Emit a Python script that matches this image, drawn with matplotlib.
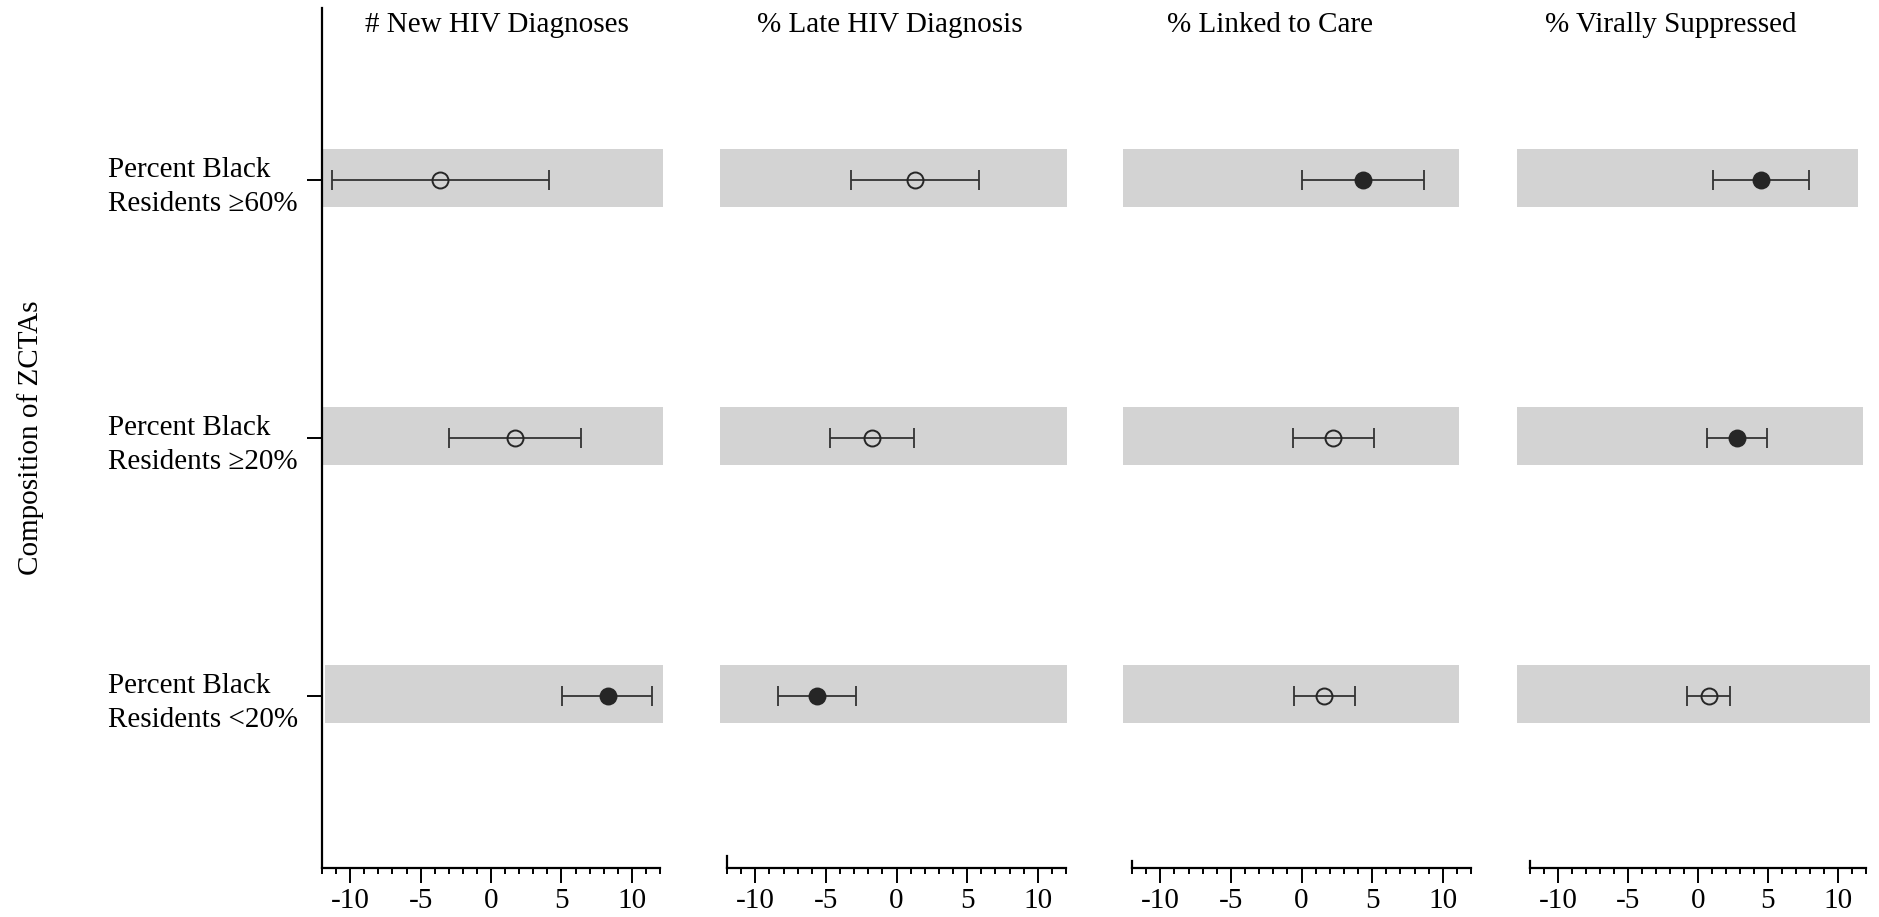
import matplotlib
matplotlib.use('Agg')
import matplotlib.pyplot as plt
from matplotlib.patches import Rectangle

plt.rcParams['font.family'] = ['Liberation Serif', 'DejaVu Serif']
plt.rcParams['axes.unicode_minus'] = False

# ---------------- data ----------------
outcomes = ['# New HIV Diagnoses', '% Late HIV Diagnosis',
            '% Linked to Care', '% Virally Suppressed']
groups = ['Percent Black\nResidents \u226560%',
          'Percent Black\nResidents \u226520%',
          'Percent Black\nResidents <20%']
y_title = 'Composition of ZCTAs'

est_new = [-3.6, 1.7, 8.3]
lo_new = [-11.3, -3.0, 5.05]
hi_new = [4.1, 6.4, 11.45]
sig_new = [False, False, True]

est_late = [1.3, -1.7, -5.65]
lo_late = [-3.25, -4.7, -8.4]
hi_late = [5.85, 1.25, -2.85]
sig_late = [False, False, True]

est_link = [4.35, 2.25, 1.6]
lo_link = [0.05, -0.6, -0.55]
hi_link = [8.7, 5.1, 3.8]
sig_link = [True, False, False]

est_vs = [4.5, 2.75, 0.75]
lo_vs = [1.05, 0.65, -0.8]
hi_vs = [7.95, 4.9, 2.3]
sig_vs = [True, True, False]

x_major = [-10, -5, 0, 5, 10]
x_labels = ['-10', '-5', '0', '5', '10']
x_minor = list(range(-12, 13))

estimates = [est_new, est_late, est_link, est_vs]
lows = [lo_new, lo_late, lo_link, lo_vs]
highs = [hi_new, hi_late, hi_link, hi_vs]
sigs = [sig_new, sig_late, sig_link, sig_vs]

# ---------------- layout ----------------
W, H, DPI = 1879, 917, 100
fig = plt.figure(figsize=(W / DPI, H / DPI), dpi=DPI)

panel_px = [(322, 660), (727, 1066), (1132, 1471), (1530, 1866)]
bottom_px, top_px = 868, 8
title_x_px = [497, 890, 1270, 1671]
title_y_px = 25
stub_px = [None, 12, 7, 7]

band_left = [[-11.9, -11.9, -11.8], [-12.5] * 3, [-12.65] * 3, [-12.94] * 3]
band_right = [[12.2] * 3, [12.1] * 3, [11.15] * 3, [11.4, 11.8, 12.3]]
band_below, band_above = 0.103, 0.12

rows = [3, 2, 1]
ylim = (1 / 3, 11 / 3)
px_per_unit_y = (bottom_px - top_px) / (ylim[1] - ylim[0])

FS = 21
band_color = '#d3d3d3'
mark_color = '#262626'
err_color = '#333333'

for i in range(4):
    x0, x1 = panel_px[i]
    ax = fig.add_axes([x0 / W, (H - bottom_px) / H, (x1 - x0) / W,
                       (bottom_px - top_px) / H])
    ax.set_xlim(-12, 12)
    ax.set_ylim(*ylim)
    ax.patch.set_alpha(0)

    for j, yv in enumerate(rows):
        ax.add_patch(Rectangle((band_left[i][j], yv - band_below),
                               band_right[i][j] - band_left[i][j],
                               band_below + band_above,
                               facecolor=band_color, edgecolor='none',
                               clip_on=False, zorder=0))

    est, lo, hi, sg = estimates[i], lows[i], highs[i], sigs[i]
    xerr = [[e - l for e, l in zip(est, lo)], [h - e for e, h in zip(est, hi)]]
    ax.errorbar(est, rows, xerr=xerr, fmt='none', ecolor=err_color,
                elinewidth=1.3, capsize=7, capthick=1.3, zorder=2)
    for e, yv, s in zip(est, rows, sg):
        ax.plot([e], [yv], 'o', markersize=11.5,
                markerfacecolor=mark_color if s else 'none',
                markeredgecolor=mark_color, markeredgewidth=1.4, zorder=3)

    for sp in ['top', 'right']:
        ax.spines[sp].set_visible(False)
    ax.spines['bottom'].set_bounds(-12, 12)
    ax.spines['bottom'].set_linewidth(1.6)
    ax.spines['left'].set_linewidth(1.6)

    ax.set_xticks(x_major)
    ax.set_xticklabels(x_labels, fontsize=FS)
    ax.set_xticks([v for v in x_minor if v not in x_major], minor=True)
    ax.tick_params(axis='x', which='major', length=10.5, width=1.4, pad=4,
                   direction='out')
    ax.tick_params(axis='x', which='minor', length=4, width=1.4,
                   direction='out')

    if i == 0:
        ax.set_yticks(rows)
        ax.set_yticklabels(groups, fontsize=FS, multialignment='left',
                           linespacing=1.4)
        ax.tick_params(axis='y', length=10.5, width=1.4, pad=7)
        ax.set_ylabel(y_title, fontsize=FS, labelpad=46)
    else:
        ax.set_yticks([])
        ax.spines['left'].set_bounds(ylim[0], ylim[0] + stub_px[i] / px_per_unit_y)

    fig.text(title_x_px[i] / W, 1 - title_y_px / H, outcomes[i],
             fontsize=FS, ha='center', va='center')

fig.savefig('out.png', dpi=DPI)
